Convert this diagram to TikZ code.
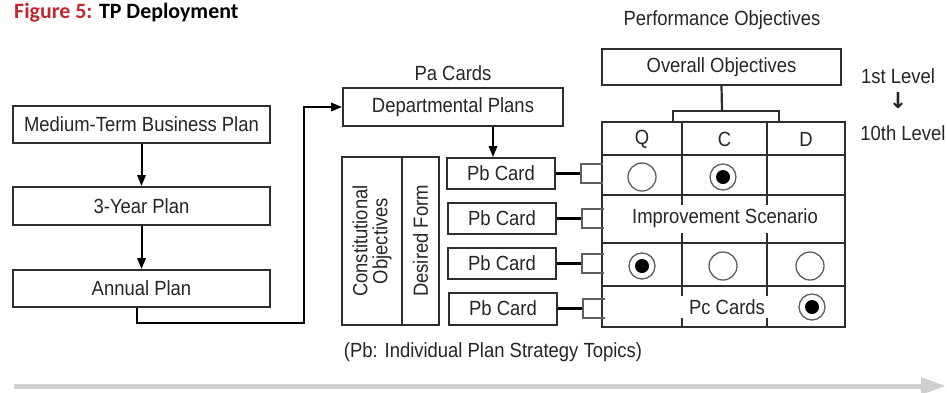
\documentclass[tikz,border=0pt]{standalone}
\usepackage{fontspec}
\setmainfont[FakeStretch=0.9]{Liberation Sans}
\newfontfamily\titlefont{Carlito}
\newfontfamily\symfont{DejaVu Sans}
\usetikzlibrary{arrows.meta}
\definecolor{ln}{HTML}{2E2E2E}
\definecolor{txt}{HTML}{262626}
\definecolor{figred}{HTML}{C4262E}
\definecolor{garrow}{HTML}{CFCFCF}
\definecolor{circ}{HTML}{5E5E5E}
\tikzset{
  lbl/.style={font=\fontsize{20.5}{23}\selectfont, text=txt, inner sep=0pt},
  box/.style={lbl, draw=ln, line width=2pt, align=center},
  arr/.style={draw=black, line width=2pt, -{Triangle[length=11pt,width=8.5pt]}},
  conn/.style={draw=black, line width=3pt},
  gridline/.style={draw=ln, line width=2.2pt},
  openbox/.style={draw=circ, line width=1.5pt},
  opencirc/.style={circle, draw=circ, line width=1.3pt, minimum size=28pt, inner sep=0pt},
  ringcirc/.style={circle, draw=circ, line width=1.3pt, minimum size=26pt, inner sep=0pt},
  dotcirc/.style={circle, fill=black, minimum size=14pt, inner sep=0pt},
}
\begin{document}
\begin{tikzpicture}[x=1pt,y=-1pt]
\useasboundingbox[fill=white] (0,0) rectangle (947,392);

% title
\node[anchor=base west, inner sep=0pt, font=\titlefont\bfseries\fontsize{21.9}{24}\selectfont] (title) at (14,18.5)
  {\textcolor{figred}{Figure 5:} TP Deployment};

% left column
\node[box, minimum width=257pt, minimum height=37pt] (mtbp) at (141.5,124.5) {Medium-Term Business Plan};
\node[box, minimum width=257pt, minimum height=38pt] (y3) at (141.5,206) {3-Year Plan};
\node[box, minimum width=257pt, minimum height=37pt] (ann) at (141.5,288.5) {Annual Plan};
\draw[arr] (mtbp.south) -- (y3.north);
\draw[arr] (y3.south) -- (ann.north);

% Pa cards
\node[lbl] (pa) at (453,73) {Pa Cards};
\node[box, minimum width=220pt, minimum height=38pt] (dept) at (453,107) {Departmental Plans};
\coordinate (turn) at (304,323);
\draw[arr] ([xshift=-4.5pt]ann.south) |- (turn) |- (dept.west);

% constitutional objectives
\node[box, minimum width=60pt, minimum height=168pt] (co) at (372,241) {};
\node[box, minimum width=37pt, minimum height=168pt] (df) at (420.5,241) {};
\node[lbl, rotate=90, align=center, font=\fontsize{20.5}{20}\selectfont] (cot) at (co.center) {Constitutional\\Objectives};
\node[lbl, rotate=90] (dft) at (df.center) {Desired Form};

% Pb cards
\node[box, minimum width=108pt, minimum height=31pt] (pb1) at (501,173.5) {Pb Card};
\node[box, minimum width=108pt, minimum height=31pt] (pb2) at (502,218.5) {Pb Card};
\node[box, minimum width=108pt, minimum height=31pt] (pb3) at (502,263.5) {Pb Card};
\node[box, minimum width=108pt, minimum height=32pt] (pb4) at (503,308.5) {Pb Card};
\draw[arr] ([xshift=40pt]dept.south) -- ([xshift=-8pt]pb1.north);

% performance objectives
\node[lbl] (po) at (722,20) {Performance Objectives};
\node[box, minimum width=239pt, minimum height=36pt] (oo) at (721.5,67) {Overall Objectives};

% grid
\node[draw=ln, line width=2.2pt, minimum width=243pt, minimum height=205pt, inner sep=0pt] (grid) at (723.5,224.5) {};
\foreach \yy in {155,195,243,286} \draw[gridline] (602,\yy) -- (845,\yy);
\foreach \xx in {682,767} {
  \draw[gridline] (\xx,122) -- (\xx,205);
  \draw[gridline] (\xx,233) -- (\xx,296);
  \draw[gridline] (\xx,318) -- (\xx,327);
}
\coordinate (brl) at (673,122);
\coordinate (brr) at (779,122);
\draw[gridline] (oo.south) -- (722,111);
\draw[gridline] (brl) -- (673,111) -- (779,111) -- (brr);

\node[lbl] (hq) at (642,139) {Q};
\node[lbl] (hc) at (724.5,139) {C};
\node[lbl] (hd) at (806,139) {D};
\node[lbl] (imp) at (725,218) {Improvement Scenario};
\node[lbl] (pc) at (727,307) {Pc Cards};

\node[opencirc] (c11) at (642,177) {};
\node[ringcirc] (c12) at (723,177) {};
\node[dotcirc] (d12) at (723,177) {};
\node[ringcirc] (c31) at (642,266) {};
\node[dotcirc] (d31) at (642,266) {};
\node[opencirc] (c32) at (723,266) {};
\node[opencirc] (c33) at (810,266) {};
\node[ringcirc] (c43) at (812,307) {};
\node[dotcirc] (d43) at (812,307) {};

% connectors Pb -> grid
\foreach \n in {pb1,pb2,pb3,pb4} {
  \draw[conn] (\n.east) -- ([xshift=25pt]\n.east) coordinate (j\n);
  \draw[openbox] ([xshift=22pt,yshift=9.5pt]j\n) -| ([yshift=-9.5pt]j\n) -- ([xshift=22pt,yshift=-9.5pt]j\n);
}

% levels
\node[lbl] (l1) at (898,76) {1st Level};
\node[lbl, font=\symfont\bfseries\fontsize{22}{24}\selectfont] (ldown) at (898,101) {↓};
\node[lbl] (l10) at (903,133) {10th Level};

% footnote and gray arrow
\node[lbl] (note) at (493,352) {(Pb: Individual Plan Strategy Topics)};
\coordinate (ga) at (14,386);
\coordinate (gb) at (946,386);
\draw[garrow, line width=5pt, -{Triangle[length=25pt,width=16pt]}] (ga) -- (gb);
\end{tikzpicture}
\end{document}
